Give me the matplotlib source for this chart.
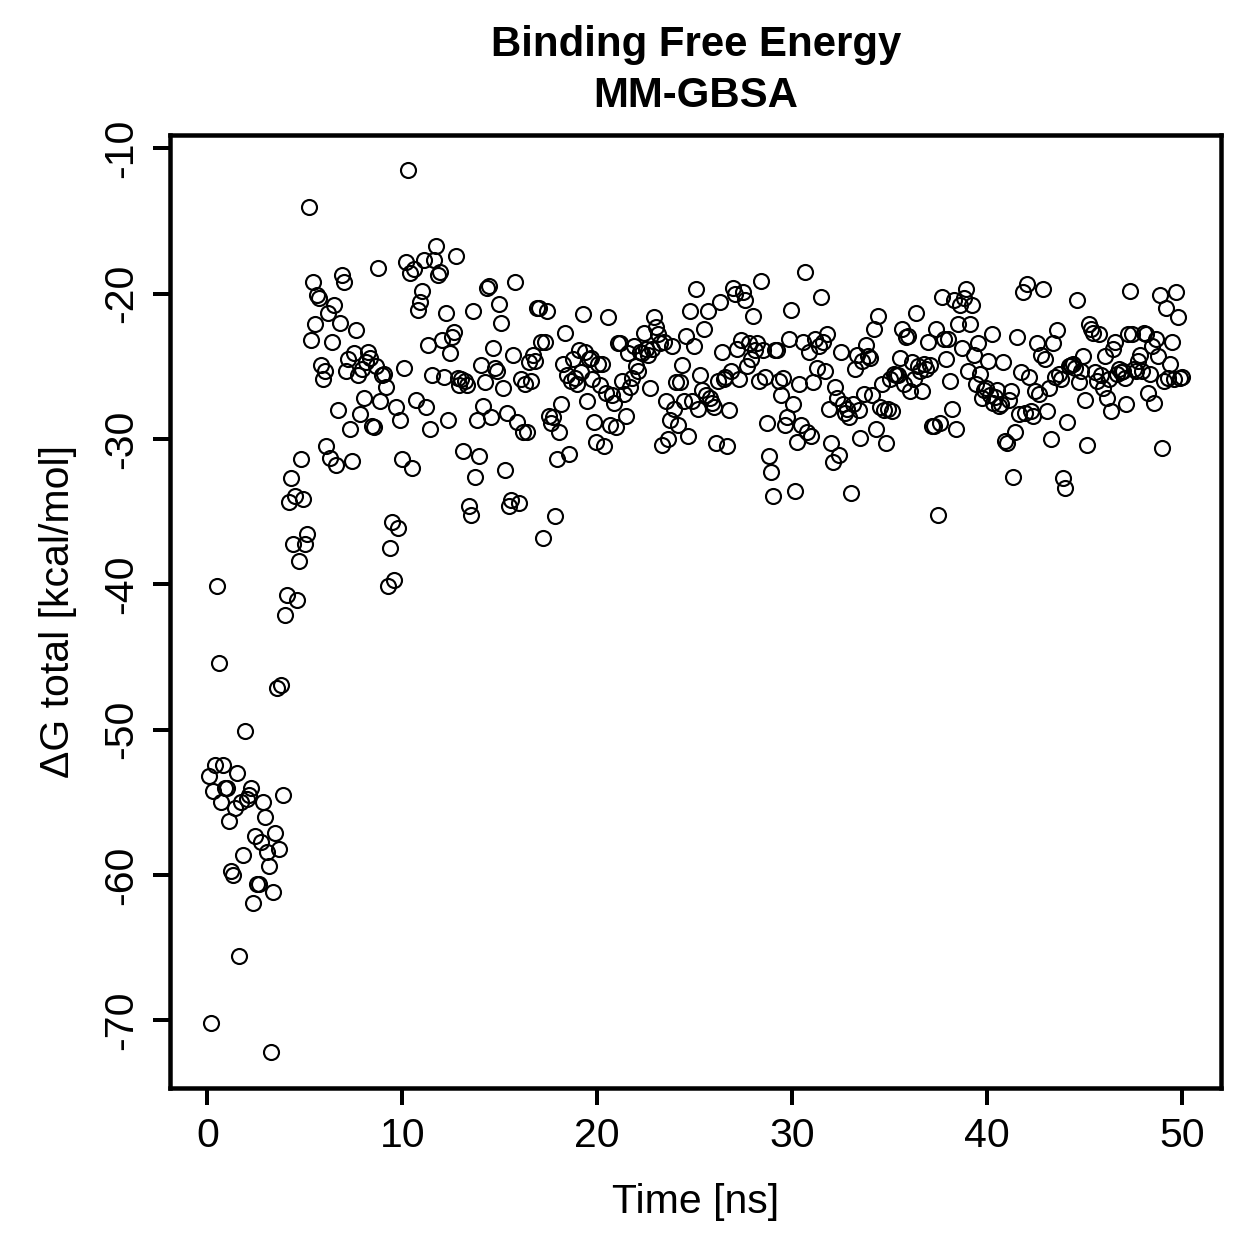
import numpy as np
import matplotlib
matplotlib.use('Agg')
import matplotlib.pyplot as plt

plt.rcParams['font.family'] = ['Liberation Sans', 'DejaVu Sans']
plt.rcParams['axes.unicode_minus'] = False

# MM-GBSA total binding free energy per frame (kcal/mol)
dG_total = [
    -53.2, -70.2, -54.2, -52.4, -40.1, -45.4, -55.0, -52.4, -54.0, -54.0,
    -56.3, -59.7, -60.0, -55.4, -53.0, -65.6, -55.0, -58.6, -50.1, -54.8,
    -54.5, -54.0, -61.9, -57.3, -60.6, -60.6, -57.7, -55.0, -56.0, -58.4,
    -59.4, -72.2, -61.2, -57.1, -47.1, -58.2, -46.9, -54.5, -42.1, -40.7,
    -34.3, -32.7, -37.2, -33.9, -41.1, -38.4, -31.4, -34.1, -37.2, -36.5,
    -14.0, -23.2, -19.2, -22.1, -20.1, -20.3, -24.9, -25.9, -25.3, -30.5,
    -21.3, -31.3, -23.3, -20.8, -31.8, -28.0, -22.0, -18.7, -19.2, -25.3,
    -24.5, -29.3, -31.5, -24.1, -22.5, -25.6, -28.3, -25.2, -27.2, -24.7,
    -24.0, -24.4, -29.1, -29.2, -25.0, -18.2, -27.4, -25.6, -25.5, -26.4,
    -40.1, -37.5, -35.7, -39.7, -27.8, -36.1, -28.7, -31.4, -25.1, -17.8,
    -11.5, -18.6, -32.0, -18.3, -27.3, -21.1, -20.6, -19.8, -17.7, -27.8,
    -23.5, -29.3, -25.6, -17.7, -16.7, -18.7, -18.5, -23.2, -25.7, -21.3,
    -28.7, -24.1, -23.0, -22.6, -17.4, -25.8, -26.3, -25.9, -30.8, -26.0,
    -26.3, -34.6, -35.2, -21.2, -32.6, -28.7, -31.2, -24.9, -27.7, -26.1,
    -19.6, -19.5, -28.5, -23.7, -25.1, -25.3, -20.7, -22.0, -26.5, -32.1,
    -28.2, -34.6, -34.2, -24.2, -19.2, -28.8, -34.4, -25.9, -29.5, -26.2,
    -29.5, -24.7, -26.0, -24.2, -24.6, -21.0, -21.0, -23.3, -36.8, -23.3,
    -21.2, -28.4, -28.9, -28.5, -35.3, -31.4, -29.5, -27.6, -24.8, -22.7,
    -25.6, -31.0, -26.0, -24.5, -25.8, -26.2, -23.9, -25.4, -21.4, -24.0,
    -27.4, -24.5, -24.4, -25.9, -28.8, -30.2, -24.8, -26.3, -24.8, -30.5,
    -26.8, -21.6, -29.0, -27.0, -27.5, -29.2, -23.4, -23.4, -26.0, -26.9,
    -28.4, -24.1, -26.4, -25.8, -23.6, -25.0, -25.3, -24.0, -24.1, -22.7,
    -23.8, -24.2, -26.5, -23.8, -21.6, -22.3, -22.8, -23.4, -30.4, -23.3,
    -27.4, -30.0, -28.7, -23.6, -27.9, -26.1, -29.0, -26.1, -24.9, -27.4,
    -22.9, -29.8, -21.2, -27.4, -23.6, -19.7, -27.9, -25.6, -26.6, -22.4,
    -27.0, -21.2, -27.2, -27.5, -27.8, -30.3, -26.0, -20.6, -24.0, -25.9,
    -25.7, -30.5, -28.0, -25.3, -19.6, -20.0, -23.8, -25.9, -23.2, -19.9,
    -20.4, -25.0, -23.4, -24.5, -21.5, -23.9, -23.4, -26.0, -19.1, -23.9,
    -25.7, -28.9, -31.2, -32.3, -33.9, -23.9, -23.9, -26.0, -27.0, -25.8,
    -29.0, -28.5, -23.1, -21.1, -27.6, -33.6, -30.2, -26.2, -29.0, -23.3,
    -18.5, -29.5, -24.0, -29.8, -26.1, -23.1, -25.1, -23.6, -20.2, -23.3,
    -25.3, -22.8, -27.9, -30.3, -31.6, -26.4, -27.2, -31.1, -24.0, -27.6,
    -28.2, -27.9, -28.5, -33.7, -27.6, -25.2, -24.2, -28.0, -29.9, -24.6,
    -26.9, -23.5, -24.3, -24.4, -27.0, -22.4, -29.3, -21.5, -27.8, -26.2,
    -28.0, -30.3, -27.9, -25.9, -28.1, -25.5, -25.6, -25.6, -24.4, -22.4,
    -26.2, -23.0, -22.9, -26.7, -24.7, -25.9, -21.3, -25.0, -25.3, -26.7,
    -24.8, -25.2, -23.3, -24.9, -29.1, -29.1, -22.4, -35.2, -28.9, -20.2,
    -23.1, -24.5, -23.1, -26.0, -27.9, -20.4, -29.3, -22.1, -20.8, -23.7,
    -20.3, -19.7, -25.3, -22.1, -20.8, -24.2, -26.2, -23.4, -25.5, -27.2,
    -26.6, -26.5, -24.6, -27.0, -22.8, -27.5, -27.1, -26.6, -27.7, -27.6,
    -24.7, -30.1, -30.3, -27.3, -26.7, -32.6, -29.5, -23.0, -28.3, -25.4,
    -19.9, -28.2, -19.3, -25.7, -28.1, -28.4, -26.7, -23.4, -26.9, -24.2,
    -19.7, -24.5, -28.1, -26.5, -30.0, -23.4, -25.7, -22.5, -25.5, -25.9,
    -32.7, -33.4, -28.8, -25.0, -24.9, -24.8, -25.1, -20.4, -26.1, -25.3,
    -24.3, -27.3, -30.4, -22.1, -22.4, -22.7, -25.4, -26.0, -22.8, -25.6,
    -26.5, -24.3, -27.2, -25.9, -28.1, -23.8, -23.3, -25.5, -25.2, -25.4,
    -25.3, -25.8, -27.6, -22.8, -19.8, -22.8, -25.2, -25.3, -24.6, -24.2,
    -25.3, -22.7, -22.8, -26.8, -25.5, -23.6, -27.5, -23.1, -24.3, -20.1,
    -30.6, -26.0, -21.0, -25.8, -24.8, -23.3, -25.9, -19.9, -21.6, -25.8,
    -25.7,
]
t_start, t_end = 0.1, 50.0   # ns, frames evenly spaced
time_ns = np.linspace(t_start, t_end, len(dG_total))

x_ticks = [0, 10, 20, 30, 40, 50]
y_ticks = [-70, -60, -50, -40, -30, -20, -10]

fig = plt.figure(figsize=(1259 / 180, 1259 / 180), dpi=180)
ax = fig.add_axes([0.1354, 0.1362, 0.8344, 0.7566])

ax.plot(time_ns, dG_total, linestyle='none', marker='o', markersize=6.0,
        markerfacecolor='none', markeredgecolor='k', markeredgewidth=0.85)

# R style axis ranges (4% padding)
dx = 0.04 * (max(time_ns) - min(time_ns))
dy = 0.04 * (max(dG_total) - min(dG_total))
ax.set_xlim(min(time_ns) - dx, max(time_ns) + dx)
ax.set_ylim(min(dG_total) - dy, max(dG_total) + dy)

ax.set_xticks(x_ticks)
ax.set_yticks(y_ticks)
ax.tick_params(axis='both', direction='out', length=6.7, width=1.6,
               labelsize=16.4, color='k')
ax.tick_params(axis='x', pad=5.2)
ax.tick_params(axis='y', pad=5.4, labelrotation=90)
for lab in ax.get_yticklabels():
    lab.set_va('center')

for sp in ax.spines.values():
    sp.set_linewidth(1.8)

ax.set_xlabel('Time [ns]', fontsize=16.4, labelpad=11)
ax.set_ylabel('\u0394G total [kcal/mol]', fontsize=16.4, labelpad=10)
ax.set_title('Binding Free Energy\nMM-GBSA', fontsize=16.8, fontweight='bold',
             linespacing=1.36, pad=11)

plt.savefig('out.png', dpi=180)
